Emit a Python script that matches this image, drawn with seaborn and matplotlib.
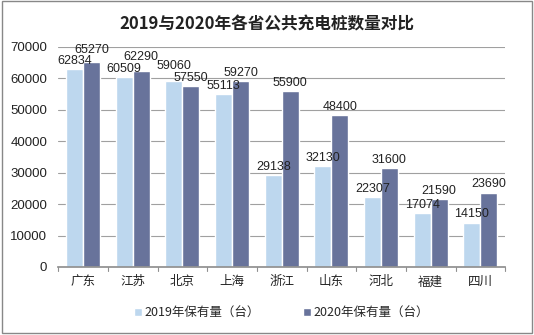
import matplotlib
matplotlib.use("Agg")
import matplotlib.pyplot as plt
import seaborn as sns
import pandas as pd

provinces = ["广东", "江苏", "北京", "上海", "浙江", "山东", "河北", "福建", "四川"]
vals_2019 = [62834, 60509, 59060, 55113, 29138, 32130, 22307, 17074, 14150]
vals_2020 = [65270, 62290, 57550, 59270, 55900, 48400, 31600, 21590, 23690]
series = ["2019年保有量（台）", "2020年保有量（台）"]
colors = ["#BDD7EE", "#68739B"]
title = "2019与2020年各省公共充电桩数量对比"

df = pd.DataFrame({
    "省份": provinces * 2,
    "数量": vals_2019 + vals_2020,
    "年份": [series[0]] * len(provinces) + [series[1]] * len(provinces),
})

sns.set_theme(style="white")
plt.rcParams['font.family'] = ['Noto Sans CJK SC', 'DejaVu Sans']

fig = plt.figure(figsize=(5.34, 3.35), dpi=100)
ax = fig.add_axes([0.109, 0.203, 0.837, 0.657])
sns.barplot(data=df, x="省份", y="数量", hue="年份", palette=colors,
            width=0.68, ax=ax, saturation=1, gap=0)

ax.set_ylim(0, 70000)
ax.set_yticks(range(0, 70001, 10000))
ax.yaxis.grid(True, color="#A0A0A0", linewidth=0.8)
ax.set_axisbelow(True)
for s in ["top", "right", "left"]:
    ax.spines[s].set_visible(False)
ax.spines["bottom"].set_color("#909090")
ax.set_xlabel("")
ax.set_ylabel("")
ax.tick_params(axis="y", labelsize=9.5, length=0, pad=8, colors="#222222")
for lab in ax.get_yticklabels():
    lab.set_family(["Liberation Sans", "DejaVu Sans"])
ax.tick_params(axis="x", labelsize=9, length=0, pad=6, colors="#222222")
ax.set_xlim(-0.5, len(provinces) - 0.5)
for i in range(len(provinces) + 1):
    ax.plot([i - 0.5, i - 0.5], [0, -1200], color="#909090", lw=0.8, clip_on=False)

# data units per point (for label collision avoidance)
ax_h_pt = 0.657 * 3.35 * 72
units_per_pt = 70000 / ax_h_pt
min_gap_pt = 8.5

c19, c20 = ax.containers[0], ax.containers[1]
for b19, b20 in zip(c19, c20):
    h19, h20 = b19.get_height(), b20.get_height()
    dy19, dy20 = 1.5, 1.5
    diff_pt = abs(h20 - h19) / units_per_pt
    if diff_pt < min_gap_pt:
        if h20 >= h19:
            dy20 += min_gap_pt - diff_pt
        else:
            dy19 += min_gap_pt - diff_pt
    for bar, h, dy in ((b19, h19, dy19), (b20, h20, dy20)):
        ax.annotate(f"{int(round(h))}", (bar.get_x() + bar.get_width() / 2, h),
                    xytext=(0, dy), textcoords="offset points", ha="center", va="bottom",
                    fontsize=9, color="#222222", family=["Liberation Sans", "DejaVu Sans"],
                    annotation_clip=False)

handles, labels = ax.get_legend_handles_labels()
ax.legend(handles, labels, loc="upper center", bbox_to_anchor=(0.5, -0.13), ncol=2,
          frameon=False, fontsize=9, handlelength=0.6, handleheight=0.6,
          handletextpad=0.2, columnspacing=3.5)

fig.suptitle(title, y=0.955, fontsize=12, fontweight="bold", color="#222222")
fig.patches.append(plt.Rectangle((0.004, 0.006), 0.992, 0.99, transform=fig.transFigure,
                                 fill=False, edgecolor="#888888", lw=1))
fig.savefig("out.png", dpi=100)
